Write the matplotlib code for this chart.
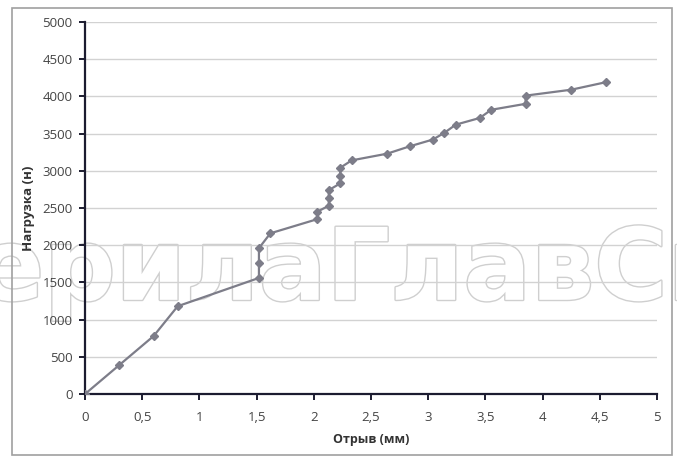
import numpy as np
import matplotlib
matplotlib.use("Agg")
import matplotlib.pyplot as plt
from matplotlib.ticker import MultipleLocator, FuncFormatter
from matplotlib.patches import Rectangle
import matplotlib.patheffects as pe

plt.rcParams['font.family'] = ['Open Sans', 'DejaVu Sans']

# данные: отрыв (мм) и нагрузка (н)
otryv = [0, 0.3, 0.6, 0.81, 1.52, 1.52, 1.52, 1.62, 2.03, 2.03, 2.13, 2.13,
         2.13, 2.23, 2.23, 2.23, 2.33, 2.64, 2.84, 3.04, 3.14, 3.24, 3.45,
         3.55, 3.85, 3.85, 4.25, 4.55]
nagruzka = [0, 390, 780, 1180, 1560, 1760, 1960, 2160, 2350, 2450, 2530,
            2640, 2740, 2830, 2930, 3040, 3140, 3230, 3330, 3420, 3510,
            3620, 3710, 3820, 3900, 4010, 4090, 4190]

fig = plt.figure(figsize=(6.77, 4.67), dpi=100)
ax = fig.add_axes([0.1256, 0.1563, 0.845, 0.7966])
ax.set_facecolor('none')

ax.plot(otryv, nagruzka, color='#7d7d89', lw=1.6, marker='D', ms=4.5,
        mfc='#7d7d89', mec='#7d7d89', zorder=3)

ax.set_xlim(0, 5)
ax.set_ylim(0, 5000)
ax.xaxis.set_major_locator(MultipleLocator(0.5))
ax.yaxis.set_major_locator(MultipleLocator(500))
ax.xaxis.set_major_formatter(FuncFormatter(lambda v, p: ('%g' % v).replace('.', ',')))

ax.grid(axis='y', color='#d2d2d2', lw=1)
ax.set_axisbelow(True)
for s in ['top', 'right']:
    ax.spines[s].set_visible(False)
for s in ['left', 'bottom']:
    ax.spines[s].set_color('#1c1c30')
    ax.spines[s].set_linewidth(1.6)
ax.tick_params(direction='out', length=4, width=1.4, color='#1c1c30',
               labelsize=9.5, labelcolor='#444444', pad=5)
ax.tick_params(axis='x', pad=8)

ax.set_xlabel('Отрыв (мм)', fontsize=9, fontweight='bold', color='#333333', labelpad=7)
ax.set_ylabel('Нагрузка (н)', fontsize=9.5, fontweight='bold', color='#333333', labelpad=5)

# рамка вокруг диаграммы
fig.patches.append(Rectangle((12/677, 1-455/467), 660/677, 447/467,
                             transform=fig.transFigure, fill=False,
                             edgecolor='#a0a0a0', lw=1.2))

# водяной знак (под графиком)
fig.text(-0.035, 0.358, 'ерилаГлавСн', fontsize=72, fontweight='bold',
         family='DejaVu Sans', color='white', ha='left', va='baseline',
         zorder=-1,
         path_effects=[pe.withStroke(linewidth=2, foreground='#cfcfcf')])

fig.savefig('out.png', dpi=100)
